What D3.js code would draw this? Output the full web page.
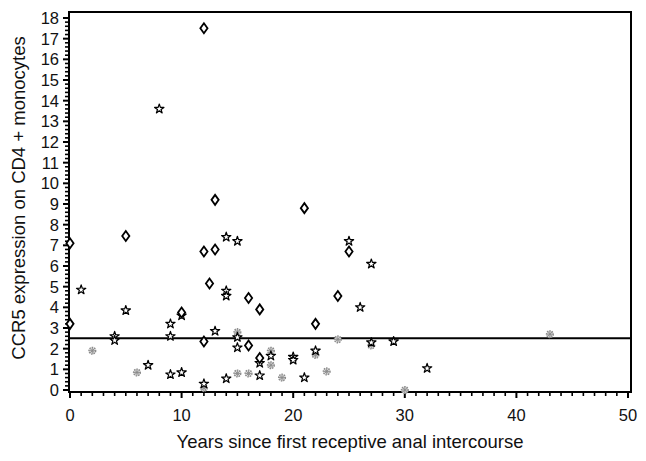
<!DOCTYPE html>
<html><head><meta charset="utf-8">
<script src="https://cdn.jsdelivr.net/npm/d3@7"></script>
<style>body{margin:0;background:#fff}svg{display:block}text{font-family:"Liberation Sans",Arial,sans-serif;fill:#111}</style>
</head><body><svg id="c" width="646" height="461"></svg>
<script>
const diamondX=[0,0,5,10,12,12,13,13,12.5,12,16,16,17,17,21,22,24,25];
const diamondY=[7.1,3.2,7.45,3.75,17.5,6.7,9.2,6.8,5.15,2.35,4.45,2.15,3.9,1.55,8.8,3.2,4.55,6.7];
const starX=[1,4,4,5,7,8,9,9,9,10,10,12,13,14,14,14,14,15,15,15,17,17,18,20,20,21,22,25,26,27,27,29,32];
const starY=[4.85,2.6,2.4,3.85,1.2,13.6,3.2,2.6,0.75,3.6,0.85,0.3,2.85,7.4,4.8,4.55,0.55,7.2,2.55,2.05,1.3,0.7,1.65,1.6,1.45,0.6,1.9,7.2,4.0,6.1,2.3,2.35,1.05];
const grayX=[2,6,12,15,15,16,18,18,19,22,23,24,27,30,43];
const grayY=[1.9,0.85,0.1,2.8,0.8,0.8,1.9,1.2,0.6,1.7,0.9,2.45,2.15,0.0,2.7];
const xTicks=[0,10,20,30,40,50];
const yTicks=d3.range(0,19);
const refLine=2.5;
const xTitle="Years since first receptive anal intercourse";
const yTitle="CCR5 expression on CD4 + monocytes";

const svg=d3.select("#c");
const x=d3.scaleLinear().domain([0,50]).range([70,628]);
const y=d3.scaleLinear().domain([0,18]).range([390,18]);
const L=69,R=631,T=12,B=392;

svg.append("rect").attr("x",L).attr("y",T).attr("width",R-L).attr("height",B-T)
  .attr("fill","none").attr("stroke","#000").attr("stroke-width",2);

const gx=svg.append("g");
d3.range(0,51,1).forEach(v=>{
  const major=v%10===0;
  gx.append("line").attr("x1",x(v)).attr("x2",x(v)).attr("y1",B).attr("y2",B+(major?6:4))
    .attr("stroke","#000").attr("stroke-width",major?2:1.6);
});
gx.selectAll("text").data(xTicks).join("text").attr("x",d=>x(d)).attr("y",B+29)
  .attr("text-anchor","middle").attr("font-size",16.5).text(d=>d);

const gy=svg.append("g");
d3.range(0,91,1).forEach(i=>{
  const v=i/5, major=i%5===0;
  gy.append("line").attr("x1",L).attr("x2",L-(major?6:4)).attr("y1",y(v)).attr("y2",y(v))
    .attr("stroke","#000").attr("stroke-width",major?2:1.6);
});
gy.selectAll("text").data(yTicks).join("text").attr("x",L-10).attr("y",d=>y(d)+6)
  .attr("text-anchor","end").attr("font-size",16.5).text(d=>d);

svg.append("text").attr("x",350).attr("y",448).attr("text-anchor","middle")
  .attr("font-size",18.5).text(xTitle);
svg.append("text").attr("transform","translate(25,198) rotate(-90)").attr("text-anchor","middle")
  .attr("font-size",18.5).text(yTitle);

svg.append("line").attr("x1",L).attr("x2",R).attr("y1",y(refLine)).attr("y2",y(refLine))
  .attr("stroke","#000").attr("stroke-width",2);

const gg=svg.append("g");
grayX.forEach((v,i)=>{
  const g=gg.append("g").attr("transform",`translate(${x(v)},${y(grayY[i])})`);
  g.append("circle").attr("r",3.4).attr("fill","#dcdcdc").attr("stroke","#8a8a8a").attr("stroke-width",1.3).attr("stroke-dasharray","1.5,1");
  [0,45,90,135].forEach(a=>g.append("line").attr("x1",-3).attr("x2",3).attr("transform",`rotate(${a})`)
    .attr("stroke","#8a8a8a").attr("stroke-width",0.9));
});

const star=d3.symbol().type(d3.symbolStar).size(27);
svg.append("g").selectAll("path").data(starX).join("path")
  .attr("transform",(d,i)=>`translate(${x(d)},${y(starY[i])})`).attr("d",star)
  .attr("fill","#fff").attr("stroke","#000").attr("stroke-width",1.2).attr("stroke-linejoin","round");

const dpath="M0,-5L3.6,0L0,5L-3.6,0Z";
svg.append("g").selectAll("path").data(diamondX).join("path")
  .attr("transform",(d,i)=>`translate(${x(d)},${y(diamondY[i])})`).attr("d",dpath)
  .attr("fill","#fff").attr("stroke","#000").attr("stroke-width",1.8);
</script></body></html>
